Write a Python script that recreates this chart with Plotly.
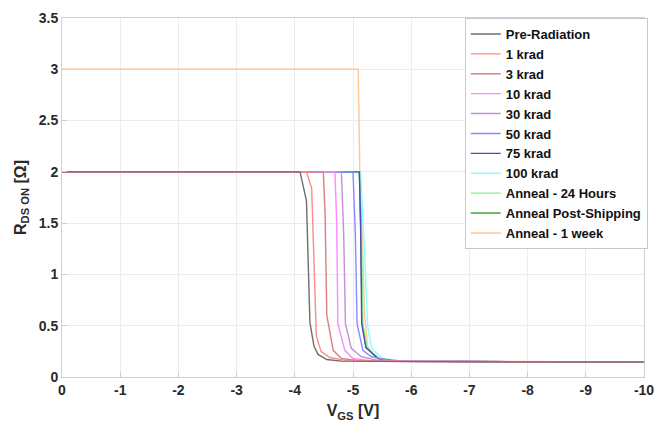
import plotly.graph_objects as go

names = ["Pre-Radiation", "1 krad", "3 krad", "10 krad", "30 krad", "50 krad",
         "75 krad", "100 krad", "Anneal - 24 Hours", "Anneal Post-Shipping", "Anneal - 1 week"]
colors = ["#6e6e6e", "#ff8a8a", "#d98080", "#ff88ff", "#c58ed8", "#8a8aff",
          "#4a4ac0", "#8affff", "#8af08a", "#3fa63f", "#ffc896"]

# per-series measured points (V_GS, R_DS_ON)
v_pre  = [0, -3.5, -4.0, -4.09, -4.2, -4.26, -4.33, -4.4, -4.55, -4.8, -6, -8, -10]
r_pre  = [2.0, 2.0, 2.0, 2.0, 1.72, 0.53, 0.3, 0.22, 0.17, 0.155, 0.15, 0.148, 0.145]
v_1k   = [0, -3.6, -4.2, -4.29, -4.33, -4.37, -4.45, -4.6, -4.9, -6, -8, -10]
r_1k   = [2.0, 2.0, 2.0, 1.84, 1.0, 0.4, 0.25, 0.19, 0.16, 0.15, 0.148, 0.145]
v_3k   = [0, -3.8, -4.49, -4.52, -4.55, -4.66, -4.8, -5.1, -6, -8, -10]
r_3k   = [2.0, 2.0, 2.0, 1.6, 0.6, 0.26, 0.18, 0.16, 0.152, 0.148, 0.145]
v_10k  = [0, -4.0, -4.69, -4.72, -4.74, -4.86, -5.0, -5.3, -6, -8, -10]
r_10k  = [2.0, 2.0, 2.0, 1.5, 0.52, 0.26, 0.18, 0.16, 0.152, 0.148, 0.145]
v_30k  = [0, -4.1, -4.8, -4.84, -4.87, -4.97, -5.14, -5.4, -6, -8, -10]
r_30k  = [2.0, 2.0, 2.0, 1.4, 0.52, 0.28, 0.2, 0.165, 0.153, 0.148, 0.145]
v_50k  = [0, -4.2, -5.0, -5.04, -5.07, -5.17, -5.31, -5.6, -6, -8, -10]
r_50k  = [2.0, 2.0, 2.0, 1.4, 0.52, 0.26, 0.2, 0.165, 0.155, 0.148, 0.145]
v_75k  = [0, -4.3, -5.11, -5.13, -5.15, -5.22, -5.43, -5.7, -6, -8, -10]
r_75k  = [2.0, 2.0, 2.0, 1.5, 0.52, 0.29, 0.18, 0.16, 0.155, 0.148, 0.145]
v_100k = [0, -4.3, -5.13, -5.2, -5.25, -5.32, -5.5, -5.8, -6, -8, -10]
r_100k = [2.0, 2.0, 2.0, 1.2, 0.5, 0.28, 0.18, 0.16, 0.155, 0.148, 0.145]
v_a24  = [0, -4.3, -5.11, -5.14, -5.17, -5.24, -5.45, -5.7, -6, -8, -10]
r_a24  = [2.0, 2.0, 2.0, 1.5, 0.52, 0.28, 0.18, 0.16, 0.155, 0.148, 0.145]
v_aps  = [0, -4.3, -5.11, -5.13, -5.16, -5.23, -5.44, -5.7, -6, -8, -10]
r_aps  = [2.0, 2.0, 2.0, 1.5, 0.52, 0.28, 0.18, 0.16, 0.155, 0.148, 0.145]
v_a1w  = [0, -5.09, -5.12, -5.15, -5.2, -5.25, -5.4, -5.7, -6, -8, -10]
r_a1w  = [3.0, 3.0, 1.9, 1.5, 0.6, 0.3, 0.18, 0.16, 0.155, 0.148, 0.145]

xs = [v_pre, v_1k, v_3k, v_10k, v_30k, v_50k, v_75k, v_100k, v_a24, v_aps, v_a1w]
ys = [r_pre, r_1k, r_3k, r_10k, r_30k, r_50k, r_75k, r_100k, r_a24, r_aps, r_a1w]

x_ticks = [0, -1, -2, -3, -4, -5, -6, -7, -8, -9, -10]
x_tick_text = ["0", "-1", "-2", "-3", "-4", "-5", "-6", "-7", "-8", "-9", "-10"]
y_ticks = [0, 0.5, 1, 1.5, 2, 2.5, 3, 3.5]
y_tick_text = ["0", "0.5", "1", "1.5", "2", "2.5", "3", "3.5"]

fig = go.Figure()
# drawn in reverse so the earlier series sit on top; legend keeps original order
for i in reversed(range(len(names))):
    fig.add_trace(go.Scatter(x=xs[i], y=ys[i], mode="lines", name=names[i],
                             legendrank=i + 1,
                             line=dict(color=colors[i], width=1.4)))

font_fam = "Liberation Sans, Arial, sans-serif"
axis_common = dict(showgrid=True, gridcolor="#ececec", gridwidth=1,
                   showline=True, linecolor="#cfcfcf", linewidth=1, mirror=True,
                   ticks="inside", ticklen=5, tickcolor="#cfcfcf",
                   zeroline=False, automargin=False,
                   tickfont=dict(family=font_fam, size=14, color="#2a2a2a", weight="bold"))

fig.update_layout(
    width=660, height=422,
    margin=dict(l=62, r=12, t=18, b=45),
    paper_bgcolor="white", plot_bgcolor="white",
    font=dict(family=font_fam, color="#2a2a2a"),
    xaxis=dict(range=[0, -10], tickvals=x_ticks, ticktext=x_tick_text, **axis_common,
               title=dict(text="V<sub>GS</sub> [V]", standoff=8,
                          font=dict(family=font_fam, size=16, color="#2a2a2a", weight="bold"))),
    yaxis=dict(range=[0, 3.5], tickvals=y_ticks, ticktext=y_tick_text, **axis_common,
               title=dict(text="R<sub>DS ON</sub> [Ω]", standoff=8,
                          font=dict(family=font_fam, size=16, color="#2a2a2a", weight="bold"))),
    legend=dict(x=0.692, y=1.0, xanchor="left", yanchor="top",
                bgcolor="white", bordercolor="#c8c8c8", borderwidth=1,
                font=dict(family=font_fam, size=13, color="#111", weight="bold"),
                itemwidth=30, tracegroupgap=0),
    showlegend=True,
)

fig.write_html("out.html")
